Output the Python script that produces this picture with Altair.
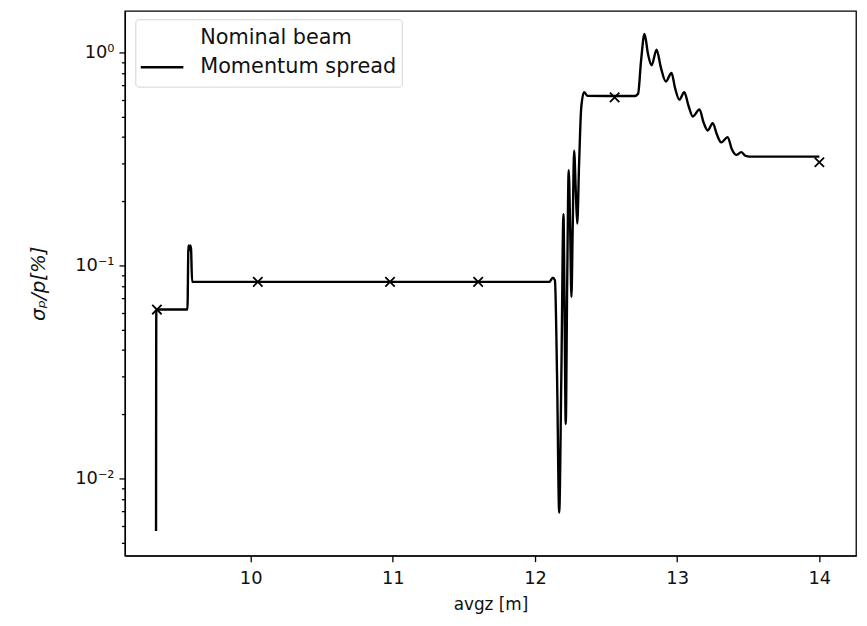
import altair as alt
import pandas as pd

# Momentum spread profile
spread_z = [9.334, 9.336, 9.555, 9.562, 9.568, 9.574, 9.580, 9.588, 9.60,
            12.10, 12.125, 12.14, 12.155, 12.17, 12.185, 12.200, 12.208, 12.216,
            12.226, 12.237, 12.247, 12.256, 12.265, 12.275, 12.287, 12.297,
            12.31, 12.325, 12.345, 12.37, 12.70, 12.725, 12.745, 12.77, 12.795,
            12.82, 12.855, 12.885, 12.92, 12.96, 12.985, 13.015, 13.05, 13.08,
            13.11, 13.157, 13.185, 13.215, 13.25, 13.28, 13.31, 13.355, 13.385,
            13.417, 13.45, 13.48, 13.51, 14.0]
spread_val = [0.00565, 0.062, 0.062, 0.124, 0.118, 0.124, 0.120, 0.0836, 0.0836,
              0.0836, 0.0875, 0.085, 0.03, 0.0069, 0.03, 0.174, 0.06, 0.018,
              0.08, 0.28, 0.15, 0.071, 0.15, 0.345, 0.22, 0.157,
              0.30, 0.55, 0.65, 0.625, 0.624, 0.64, 0.90, 1.22, 0.98,
              0.87, 1.03, 0.85, 0.73, 0.80, 0.68, 0.60, 0.65, 0.56,
              0.50, 0.54, 0.47, 0.43, 0.465, 0.41, 0.378, 0.40, 0.35,
              0.33, 0.34, 0.327, 0.324, 0.324]

# Nominal beam markers
nominal_z = [9.34, 10.05, 10.98, 11.60, 12.56, 14.0]
nominal_val = [0.062, 0.0836, 0.0836, 0.0836, 0.615, 0.305]

x_ticks = [10, 11, 12, 13, 14]
y_major = [0.01, 0.1, 1.0]
y_minor = [0.005, 0.006, 0.007, 0.008, 0.009,
           0.02, 0.03, 0.04, 0.05, 0.06, 0.07, 0.08, 0.09,
           0.2, 0.3, 0.4, 0.5, 0.6, 0.7, 0.8, 0.9]

spread_df = pd.DataFrame({"z": spread_z, "val": spread_val})
nominal_df = pd.DataFrame({"z": nominal_z, "val": nominal_val})
one = pd.DataFrame({"a": [0]})

FONT = "DejaVu Sans"
FS = 18
LEG_FS = 21

x_scale = alt.Scale(domain=[9.115, 14.258], nice=False, zero=False)
y_scale = alt.Scale(type="log", domain=[0.00433, 1.567], nice=False)

major_test = "abs(log(datum.value)/LN10 - round(log(datum.value)/LN10)) < 0.001"

x_enc = alt.X("z:Q", scale=x_scale,
              axis=alt.Axis(values=x_ticks, format="d", title="avgz [m]",
                            grid=False, tickSize=6, labelPadding=8,
                            titlePadding=9, titleFontSize=17))
y_enc = alt.Y("val:Q", scale=y_scale,
              axis=alt.Axis(values=y_major + y_minor, grid=False,
                            title="σₚ/p[%]", titleFontStyle="italic",
                            titleFontSize=20,
                            titlePadding=27, labelOverlap=False,
                            labelPadding=5,
                            labelExpr="datum.value >= 0.5 && datum.value < 2 && " + major_test + " ? '10⁰' : "
                                      "datum.value >= 0.05 && datum.value < 0.2 && " + major_test + " ? '10⁻¹' : "
                                      "datum.value >= 0.005 && datum.value < 0.02 && " + major_test + " ? '10⁻²' : ''",
                            tickSize={"condition": {"test": major_test, "value": 6}, "value": 3.5}))

line = alt.Chart(spread_df).mark_line(color="black", strokeWidth=2.4,
                                      interpolate="monotone").encode(x=x_enc, y=y_enc)

xpath = "M-1,-1L1,1M-1,1L1,-1"
points = alt.Chart(nominal_df).mark_point(shape=xpath, filled=False, color="black",
                                          strokeWidth=1.8, size=90, opacity=1).encode(
    x=alt.X("z:Q", scale=x_scale), y=alt.Y("val:Q", scale=y_scale))

legend_box = alt.Chart(one).mark_rect(fill="white", stroke="#d0d0d0", strokeWidth=1,
                                      cornerRadius=3, opacity=0.9).encode(
    x=alt.value(11), x2=alt.value(280), y=alt.value(9), y2=alt.value(77))
legend_line = alt.Chart(one).mark_rule(color="black", strokeWidth=2.4).encode(
    x=alt.value(16), x2=alt.value(59), y=alt.value(57))
legend_t1 = alt.Chart(one).mark_text(text="Nominal beam", align="left", baseline="middle",
                                     font=FONT, fontSize=LEG_FS, color="#111111").encode(
    x=alt.value(76), y=alt.value(27))
legend_t2 = alt.Chart(one).mark_text(text="Momentum spread", align="left", baseline="middle",
                                     font=FONT, fontSize=LEG_FS, color="#111111").encode(
    x=alt.value(76), y=alt.value(57))

chart = alt.layer(line, points, legend_box, legend_line, legend_t1, legend_t2).properties(
    width=738, height=550,
    autosize=alt.AutoSizeParams(type="none"),
    padding={"left": 118, "top": 0, "right": 3, "bottom": 60},
    background="white",
).configure_view(stroke="black", strokeWidth=1.3).configure_axis(
    domainColor="black", tickColor="black", labelColor="#111111", titleColor="#111111",
    labelFont=FONT, titleFont=FONT, labelFontSize=FS,
    titleFontWeight="normal", domainWidth=1.3, tickWidth=1.3,
)

chart.save("out.html", embed_options={"renderer": "svg", "actions": False})
